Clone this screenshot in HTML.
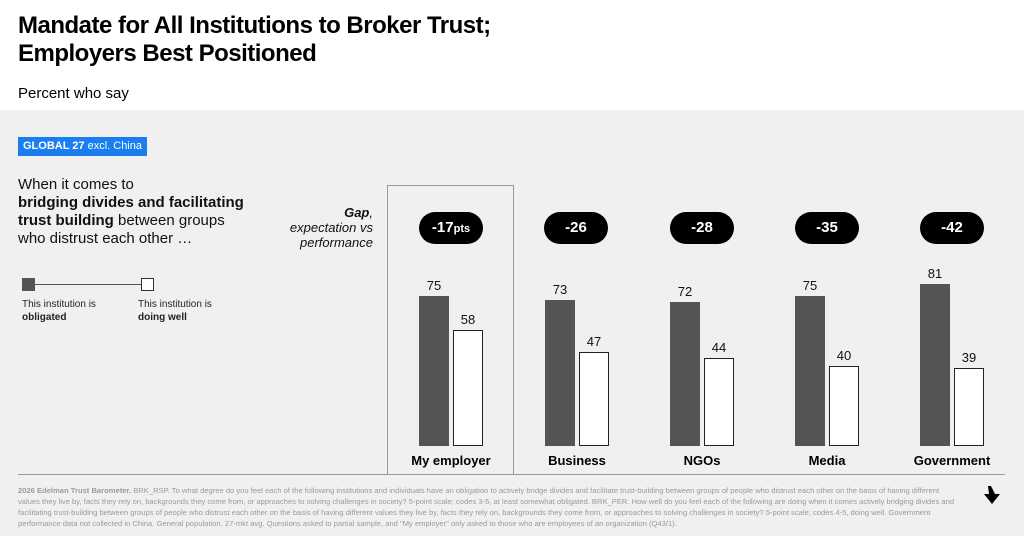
<!DOCTYPE html>
<html><head><style>
body{margin:0;width:1024px;height:536px;overflow:hidden;background:#fff;font-family:"Liberation Sans",Arial,sans-serif;position:relative}
.a{position:absolute}
.bar{position:absolute;box-sizing:border-box}
.d{background:#555453}
.w{background:#fff;border:1.5px solid #222}
.v{position:absolute;font-size:13px;color:#111;text-align:center;width:40px}
.pill{position:absolute;top:212px;height:32px;width:64px;border-radius:16px;background:#000;color:#fff;font-weight:bold;font-size:15px;text-align:center;line-height:32px}
.cat{position:absolute;top:453px;font-weight:bold;font-size:13px;text-align:center;width:120px;color:#000}
</style></head><body>
<div class="a" style="left:18px;top:12px;font-size:24px;font-weight:bold;line-height:28px;letter-spacing:-0.5px;color:#000">Mandate for All Institutions to Broker Trust;<br>Employers Best Positioned</div>
<div class="a" style="left:18px;top:85px;font-size:15px;color:#000">Percent who say</div>
<div class="a" style="left:0;top:110px;width:1024px;height:426px;background:#f0f0f0"></div>
<div class="a" style="left:18px;top:137px;width:129px;height:19px;background:#1a7ef0;color:#fff;font-size:11px;line-height:19px;text-align:center"><b>GLOBAL 27</b> excl. China</div>
<div class="a" style="left:18px;top:176px;font-size:15px;line-height:18px;color:#111">When it comes to<br><b>bridging divides and facilitating<br>trust building</b> between groups<br>who distrust each other …</div>
<div class="a" style="left:22px;top:278px;width:13px;height:13px;background:#555453"></div>
<div class="a" style="left:35px;top:284px;width:106px;height:1px;background:#555"></div>
<div class="a" style="left:141px;top:278px;width:11px;height:11px;background:#fff;border:1px solid #333"></div>
<div class="a" style="left:22px;top:298px;font-size:10px;line-height:13px;color:#222">This institution is<br><b>obligated</b></div>
<div class="a" style="left:138px;top:298px;font-size:10px;line-height:13px;color:#222">This institution is<br><b>doing well</b></div>
<div class="a" style="left:260px;top:205px;width:113px;text-align:right;font-size:13px;line-height:15px;font-style:italic;color:#111"><b>Gap</b>,<br>expectation vs<br>performance</div>
<div class="a" style="left:387px;top:185px;width:125px;height:289px;border:1px solid #999;border-bottom:none"></div>
<div class="a" style="left:18px;top:474px;width:987px;height:1px;background:#999"></div>

<div class="pill" style="left:419px">-17<span style="font-size:11px">pts</span></div>
<div class="pill" style="left:544px">-26</div>
<div class="pill" style="left:670px">-28</div>
<div class="pill" style="left:795px">-35</div>
<div class="pill" style="left:920px">-42</div>

<div class="bar d" style="left:419px;top:296px;width:30px;height:150px"></div>
<div class="bar w" style="left:453px;top:330px;width:30px;height:116px"></div>
<div class="v" style="left:414px;top:278px">75</div><div class="v" style="left:448px;top:312px">58</div>
<div class="bar d" style="left:545px;top:300px;width:30px;height:146px"></div>
<div class="bar w" style="left:579px;top:352px;width:30px;height:94px"></div>
<div class="v" style="left:540px;top:282px">73</div><div class="v" style="left:574px;top:334px">47</div>
<div class="bar d" style="left:670px;top:302px;width:30px;height:144px"></div>
<div class="bar w" style="left:704px;top:358px;width:30px;height:88px"></div>
<div class="v" style="left:665px;top:284px">72</div><div class="v" style="left:699px;top:340px">44</div>
<div class="bar d" style="left:795px;top:296px;width:30px;height:150px"></div>
<div class="bar w" style="left:829px;top:366px;width:30px;height:80px"></div>
<div class="v" style="left:790px;top:278px">75</div><div class="v" style="left:824px;top:348px">40</div>
<div class="bar d" style="left:920px;top:284px;width:30px;height:162px"></div>
<div class="bar w" style="left:954px;top:368px;width:30px;height:78px"></div>
<div class="v" style="left:915px;top:266px">81</div><div class="v" style="left:949px;top:350px">39</div>

<div class="cat" style="left:391px">My employer</div>
<div class="cat" style="left:517px">Business</div>
<div class="cat" style="left:642px">NGOs</div>
<div class="cat" style="left:767px">Media</div>
<div class="cat" style="left:892px">Government</div>

<div class="a" style="left:18px;top:485px;width:945px;font-size:7.6px;line-height:11px;color:#9a9a9a"><b>2026 Edelman Trust Barometer.</b> BRK_RSP. To what degree do you feel each of the following institutions and individuals have an obligation to actively bridge divides and facilitate trust-building between groups of people who distrust each other on the basis of having different values they live by, facts they rely on, backgrounds they come from, or approaches to solving challenges in society? 5-point scale; codes 3-5, at least somewhat obligated. BRK_PER. How well do you feel each of the following are doing when it comes actively bridging divides and facilitating trust-building between groups of people who distrust each other on the basis of having different values they live by, facts they rely on, backgrounds they come from, or approaches to solving challenges in society? 5-point scale; codes 4-5, doing well. Government performance data not collected in China. General population, 27-mkt avg. Questions asked to partial sample, and "My employer" only asked to those who are employees of an organization (Q43/1).</div>
<svg class="a" style="left:982px;top:485px" width="20" height="20" viewBox="0 0 20 20"><path d="M6 1 L9 1 L13 9 L18 9 L10 19 L2 9 L7 9 Z" fill="#000"/></svg>
</body></html>
